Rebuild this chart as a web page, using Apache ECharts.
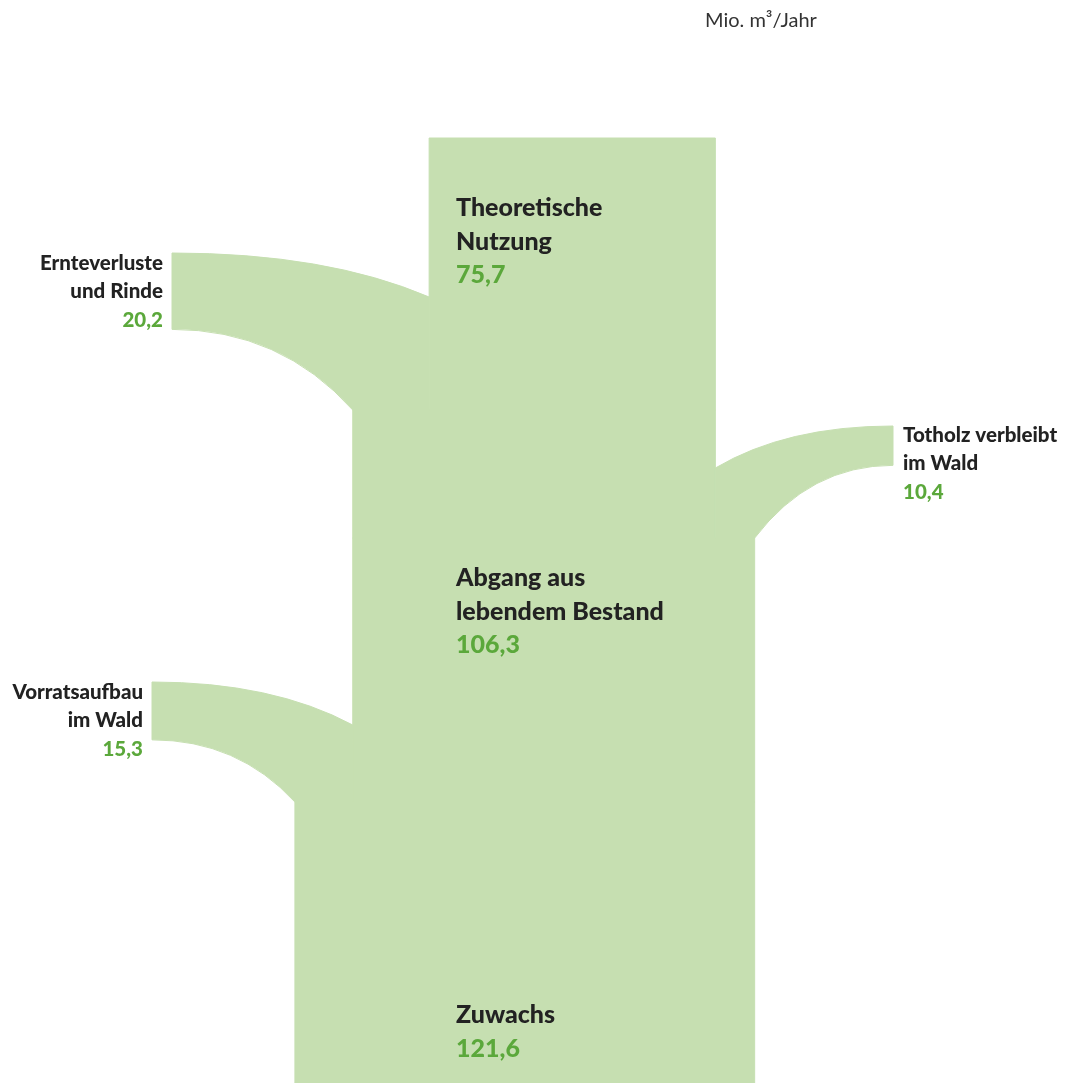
<!DOCTYPE html>
<html><head><meta charset="utf-8">
<script src="https://cdn.jsdelivr.net/npm/echarts@6/dist/echarts.min.js"></script>
<style>html,body{margin:0;padding:0;background:#fff}#c{width:1070px;height:1083px}</style>
</head><body><div id="c"></div>
<script>
// ---- data ----
const nodeNames = ['Zuwachs', 'Abgang aus\nlebendem Bestand', 'Theoretische\nNutzung'];
const nodeValues = [121.6, 106.3, 75.7];
const branchNames = ['Vorratsaufbau\nim Wald', 'Totholz verbleibt\nim Wald', 'Ernteverluste\nund Rinde'];
const branchValues = [15.3, 10.4, 20.2];
const branchSides = ['left', 'right', 'left'];
const unitLabel = 'Mio. m³/Jahr';

// ---- layout (pixels on the hidden y axis / canvas) ----
const LAYOUT = {
  top: 138, bottom: 1083,
  branches: [
    { innerY: 725, outerY: 802, endX: 152, endY: 682 },
    { innerY: 468, outerY: 538, endX: 893, endY: 426 },
    { innerY: 297, outerY: 410, endX: 172, endY: 253 }
  ],
  nodeLabelX: 456,
  nodeLabelY: [1015, 578, 208],
  nodeStage: [0, 1, 3]
};
const GREEN = '#c6dfb1', VAL = '#5ba83b', DARK = '#222222';
const FONT = 'Lato, "Noto Sans", sans-serif';
const WEIGHT = '900';

function fmt(v) { return v.toFixed(1).replace('.', ','); }

// trunk extents (value units) per stage
const stages = [];
let lo = 0, hi = nodeValues[0];
stages.push([lo, hi]);
branchValues.forEach((v, i) => {
  if (branchSides[i] === 'left') lo += v; else hi -= v;
  stages.push([lo, hi]);
});

function textLines(x, y0, lines, size, lh, align) {
  return lines.map((l, i) => ({
    type: 'text', x: x, y: y0 + i * lh, z2: 10,
    style: { text: l.t, fill: l.c, font: WEIGHT + ' ' + size + 'px ' + FONT, align: align, verticalAlign: 'middle' }
  }));
}

function renderItem(params, api) {
  const idx = params.dataIndex;
  const B = LAYOUT.branches;
  const style = { fill: GREEN, stroke: GREEN, lineWidth: 1 };
  if (idx < 4) {
    const k = idx;
    const yTop = k < 3 ? B[k].outerY : LAYOUT.top;
    const yBot = k === 0 ? LAYOUT.bottom : B[k - 1].outerY;
    const p1 = api.coord([stages[k][0], yTop]);
    const p2 = api.coord([stages[k][1], yBot]);
    const children = [{
      type: 'rect',
      shape: { x: p1[0], y: p1[1], width: p2[0] - p1[0], height: p2[1] - p1[1] },
      style: style
    }];
    const ni = LAYOUT.nodeStage.indexOf(k);
    if (ni >= 0) {
      const lines = nodeNames[ni].split('\n').map(t => ({ t: t, c: DARK }));
      lines.push({ t: fmt(nodeValues[ni]), c: VAL });
      children.push(...textLines(LAYOUT.nodeLabelX, LAYOUT.nodeLabelY[ni], lines, 25, 33.5, 'left'));
    }
    return { type: 'group', children: children };
  }
  const i = idx - 4;
  const b = B[i];
  const left = branchSides[i] === 'left';
  const before = stages[i], after = stages[i + 1];
  const outerX = api.coord([left ? before[0] : before[1], 0])[0];
  const innerX = api.coord([left ? after[0] : after[1], 0])[0];
  const t = api.size([branchValues[i], 0])[0];
  const ex = b.endX, ey = b.endY, ey2 = b.endY + t;
  const f = 0.6;
  const cIn = ex + f * (innerX - ex);
  const cOut = ex + f * (outerX - ex);
  const path = 'M' + innerX + ',' + b.innerY +
    ' Q' + cIn + ',' + ey + ' ' + ex + ',' + ey +
    ' L' + ex + ',' + ey2 +
    ' Q' + cOut + ',' + ey2 + ' ' + outerX + ',' + b.outerY +
    ' L' + innerX + ',' + b.outerY + ' Z';
  const lines = branchNames[i].split('\n').map(s => ({ t: s, c: DARK }));
  lines.push({ t: fmt(branchValues[i]), c: VAL });
  const tx = left ? ex - 9 : ex + 10;
  const ty = ey + (left ? 10 : 9);
  return {
    type: 'group',
    children: [{ type: 'path', shape: { pathData: path }, style: style }]
      .concat(textLines(tx, ty, lines, 20.5, 28.5, left ? 'right' : 'left'))
  };
}

const chart = echarts.init(document.getElementById('c'), null, { renderer: 'canvas' });
chart.setOption({
  animation: false,
  backgroundColor: '#ffffff',
  grid: { left: 0, right: 0, top: 0, bottom: 0 },
  xAxis: { type: 'value', min: -78, max: 205, show: false },
  yAxis: { type: 'value', min: 0, max: 1083, inverse: true, show: false },
  graphic: [{
    type: 'text', left: 705, top: 11,
    style: { text: unitLabel, fill: '#333333', font: '20px ' + FONT }
  }],
  series: [{
    type: 'custom',
    clip: false,
    renderItem: renderItem,
    data: [[0], [1], [2], [3], [4], [5], [6]]
  }]
});
</script></body></html>
